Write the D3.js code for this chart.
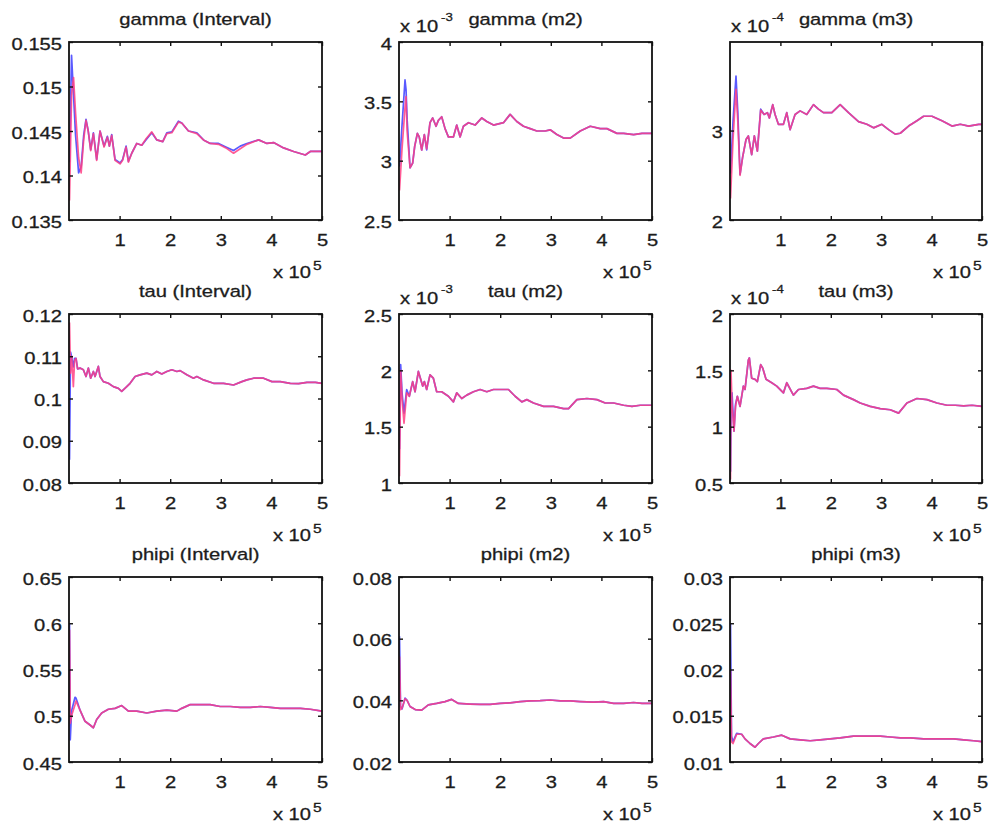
<!DOCTYPE html>
<html>
<head>
<meta charset="utf-8">
<script src="https://cdn.jsdelivr.net/npm/d3@7"></script>
<style>
  html, body { margin: 0; padding: 0; background: #fff; }
  svg text { font-family: "Liberation Sans", Arial, Helvetica, sans-serif; }
</style>
</head>
<body>
<svg id="chart" width="992" height="829"></svg>
<script>
// ---------------------------------------------------------------------------
// Running convergence statistics (pooled chain = blue, within chains = red)
// for gamma, tau and phipi: interval length, second and third moments.
// ---------------------------------------------------------------------------

const iterTicks = [100000, 200000, 300000, 400000, 500000];
const iterDomain = [0, 500000];

// gamma (Interval)
const gammaIntervalIter = [1000, 5000, 9000, 13000, 19000, 24000, 29000, 33600, 38000, 42900, 48200, 54700, 61300, 69300, 75900, 79800, 84400, 91000, 100900, 106000, 112800, 117400, 124000, 133900, 143800, 152000, 163600, 173500, 185300, 193300, 203200, 216300, 222900, 236100, 252600, 265800, 279000, 295500, 310000, 325200, 338400, 351600, 374700, 391100, 404300, 424100, 443900, 467000, 476900, 500000];
const gammaIntervalBlue = [0.1415, 0.1535, 0.1490, 0.1445, 0.1403, 0.1410, 0.1445, 0.1463, 0.1450, 0.1429, 0.1448, 0.1418, 0.1450, 0.1433, 0.1444, 0.1433, 0.1446, 0.1418, 0.1414, 0.1418, 0.1433, 0.1416, 0.1425, 0.1436, 0.1434, 0.1440, 0.1448, 0.1440, 0.1438, 0.1448, 0.1449, 0.1461, 0.1459, 0.1450, 0.1448, 0.1440, 0.1436, 0.1436, 0.1432, 0.1428, 0.1433, 0.1436, 0.1440, 0.1436, 0.1437, 0.1431, 0.1427, 0.1423, 0.1427, 0.1427];
const gammaIntervalRed = [0.1372, 0.1490, 0.1510, 0.1470, 0.1420, 0.1403, 0.1440, 0.1462, 0.1450, 0.1428, 0.1447, 0.1417, 0.1450, 0.1432, 0.1443, 0.1433, 0.1445, 0.1417, 0.1413, 0.1417, 0.1432, 0.1415, 0.1425, 0.1436, 0.1434, 0.1441, 0.1449, 0.1440, 0.1438, 0.1447, 0.1448, 0.1460, 0.1459, 0.1450, 0.1447, 0.1440, 0.1436, 0.1435, 0.1431, 0.1425, 0.1430, 0.1435, 0.1440, 0.1436, 0.1437, 0.1431, 0.1427, 0.1423, 0.1427, 0.1427];
const gammaIntervalTicks = [0.135, 0.14, 0.145, 0.15, 0.155];

// gamma (m2), values in units of 1e-3
const gammaM2Iter = [1000, 6000, 11900, 13900, 16000, 21800, 27000, 31000, 36300, 40000, 44900, 50100, 54700, 61300, 66600, 73200, 77800, 84400, 91000, 97600, 107500, 114100, 120700, 127300, 137200, 150400, 163600, 173500, 186700, 206500, 219600, 232800, 246000, 259200, 272400, 288900, 298800, 312000, 325200, 338400, 358200, 378000, 397700, 410900, 430700, 443900, 463700, 480200, 500000];
const gammaM2Blue = [2.95, 3.30, 3.68, 3.60, 3.35, 2.94, 2.98, 3.12, 3.23, 3.20, 3.09, 3.22, 3.09, 3.32, 3.36, 3.29, 3.34, 3.37, 3.27, 3.20, 3.20, 3.30, 3.20, 3.29, 3.32, 3.30, 3.36, 3.33, 3.30, 3.32, 3.39, 3.33, 3.29, 3.27, 3.25, 3.25, 3.26, 3.22, 3.19, 3.19, 3.25, 3.29, 3.27, 3.27, 3.23, 3.23, 3.22, 3.23, 3.23];
const gammaM2Red = [2.75, 3.10, 3.45, 3.54, 3.25, 2.94, 2.98, 3.12, 3.23, 3.20, 3.09, 3.22, 3.10, 3.32, 3.36, 3.29, 3.34, 3.37, 3.27, 3.20, 3.20, 3.30, 3.20, 3.29, 3.32, 3.30, 3.36, 3.33, 3.30, 3.32, 3.39, 3.33, 3.29, 3.27, 3.25, 3.25, 3.26, 3.22, 3.19, 3.19, 3.25, 3.29, 3.27, 3.27, 3.23, 3.23, 3.22, 3.23, 3.23];
const gammaM2Ticks = [2.5, 3, 3.5, 4];

// gamma (m3), values in units of 1e-4
const gammaM3Iter = [1000, 6000, 11900, 15500, 19900, 25000, 31800, 36400, 43000, 48300, 54300, 60900, 67600, 74200, 78100, 84800, 89400, 96000, 106000, 112600, 119200, 129100, 139100, 152300, 165600, 175500, 185400, 202000, 218600, 235100, 255000, 271500, 284800, 301300, 314600, 327800, 337800, 354300, 370900, 384100, 400700, 420600, 440400, 457000, 473500, 493400, 500000];
const gammaM3Blue = [2.52, 3.10, 3.61, 3.20, 2.51, 2.70, 2.90, 2.94, 2.73, 2.94, 2.77, 3.24, 3.18, 3.20, 3.14, 3.29, 3.18, 3.07, 3.07, 3.20, 3.01, 3.18, 3.22, 3.18, 3.29, 3.24, 3.20, 3.20, 3.29, 3.20, 3.10, 3.07, 3.03, 3.07, 3.01, 2.96, 2.97, 3.05, 3.11, 3.16, 3.16, 3.11, 3.05, 3.07, 3.05, 3.07, 3.07];
const gammaM3Red = [2.24, 2.90, 3.46, 3.10, 2.50, 2.70, 2.90, 2.94, 2.73, 2.94, 2.77, 3.23, 3.18, 3.20, 3.14, 3.29, 3.18, 3.07, 3.07, 3.20, 3.01, 3.18, 3.22, 3.18, 3.29, 3.24, 3.20, 3.20, 3.29, 3.20, 3.10, 3.07, 3.03, 3.07, 3.01, 2.96, 2.97, 3.05, 3.11, 3.16, 3.16, 3.11, 3.05, 3.07, 3.05, 3.07, 3.07];
const gammaM3Ticks = [2, 3];

// tau (Interval)
const tauIntervalIter = [1000, 3000, 5300, 8600, 11000, 13900, 17000, 21800, 28400, 33600, 38300, 42900, 48200, 51500, 58000, 61300, 67900, 77800, 87700, 97600, 104200, 114100, 120700, 130600, 140500, 153700, 163600, 173500, 183400, 193300, 203200, 213100, 219600, 232800, 246000, 252600, 265800, 285600, 305400, 325200, 341700, 351600, 364800, 384500, 401000, 417500, 437300, 453800, 470300, 486800, 500000];
const tauIntervalBlue = [0.0855, 0.1110, 0.1098, 0.1075, 0.1095, 0.1095, 0.1070, 0.1072, 0.1068, 0.1052, 0.1072, 0.1048, 0.1064, 0.1052, 0.1076, 0.1052, 0.1040, 0.1036, 0.1028, 0.1024, 0.1017, 0.1028, 0.1036, 0.1052, 0.1056, 0.1060, 0.1056, 0.1064, 0.1058, 0.1064, 0.1068, 0.1064, 0.1066, 0.1056, 0.1048, 0.1052, 0.1044, 0.1036, 0.1036, 0.1032, 0.1040, 0.1044, 0.1048, 0.1048, 0.1040, 0.1040, 0.1036, 0.1035, 0.1038, 0.1038, 0.1036];
const tauIntervalRed = [0.1180, 0.1060, 0.1100, 0.1028, 0.1090, 0.1095, 0.1070, 0.1072, 0.1068, 0.1052, 0.1072, 0.1048, 0.1064, 0.1052, 0.1076, 0.1052, 0.1040, 0.1036, 0.1028, 0.1024, 0.1017, 0.1028, 0.1036, 0.1052, 0.1056, 0.1060, 0.1056, 0.1064, 0.1058, 0.1064, 0.1068, 0.1064, 0.1066, 0.1056, 0.1048, 0.1052, 0.1044, 0.1036, 0.1036, 0.1032, 0.1040, 0.1044, 0.1048, 0.1048, 0.1040, 0.1040, 0.1036, 0.1035, 0.1038, 0.1038, 0.1036];
const tauIntervalTicks = [0.08, 0.09, 0.1, 0.11, 0.12];

// tau (m2), values in units of 1e-3
const tauM2Iter = [1000, 3300, 6000, 9900, 15200, 20400, 27000, 31700, 38300, 46800, 50100, 54700, 61300, 67900, 74500, 84400, 97600, 107500, 114100, 124000, 133900, 147100, 160300, 173500, 186700, 199900, 216300, 229500, 242700, 252600, 265800, 285600, 305400, 325200, 335100, 351600, 371400, 391100, 407600, 424100, 443900, 460400, 476900, 500000];
const tauM2Blue = [1.30, 2.05, 1.80, 1.62, 1.83, 1.77, 1.90, 1.81, 1.99, 1.86, 1.90, 1.83, 1.96, 1.93, 1.81, 1.81, 1.77, 1.72, 1.80, 1.75, 1.78, 1.81, 1.83, 1.81, 1.83, 1.83, 1.83, 1.77, 1.72, 1.74, 1.71, 1.68, 1.68, 1.66, 1.66, 1.74, 1.75, 1.74, 1.71, 1.71, 1.69, 1.68, 1.69, 1.69];
const tauM2Red = [1.06, 2.00, 1.75, 1.53, 1.80, 1.77, 1.90, 1.81, 1.99, 1.86, 1.90, 1.83, 1.96, 1.93, 1.81, 1.81, 1.77, 1.72, 1.80, 1.75, 1.78, 1.81, 1.83, 1.81, 1.83, 1.83, 1.83, 1.77, 1.72, 1.74, 1.71, 1.68, 1.68, 1.66, 1.66, 1.74, 1.75, 1.74, 1.71, 1.71, 1.69, 1.68, 1.69, 1.69];
const tauM2Ticks = [1, 1.5, 2, 2.5];

// tau (m3), values in units of 1e-4
const tauM3Iter = [1000, 2000, 4000, 7900, 11000, 14600, 19900, 26500, 29800, 36400, 38400, 43000, 49700, 54300, 60900, 64900, 71500, 82800, 92700, 106000, 112600, 125800, 135800, 152300, 165600, 178800, 192100, 211900, 225200, 245100, 258300, 278200, 298000, 317900, 334500, 351000, 370900, 390800, 410600, 430500, 447100, 463600, 480200, 500000];
const tauM3Blue = [0.60, 1.10, 1.30, 0.96, 1.20, 1.27, 1.18, 1.36, 1.33, 1.59, 1.61, 1.43, 1.42, 1.40, 1.55, 1.52, 1.42, 1.39, 1.36, 1.30, 1.39, 1.28, 1.33, 1.34, 1.36, 1.34, 1.34, 1.33, 1.28, 1.24, 1.21, 1.18, 1.16, 1.15, 1.12, 1.21, 1.25, 1.24, 1.21, 1.19, 1.19, 1.185, 1.19, 1.18];
const tauM3Red = [0.53, 1.50, 1.20, 0.96, 1.18, 1.27, 1.18, 1.36, 1.33, 1.59, 1.61, 1.43, 1.42, 1.40, 1.55, 1.52, 1.42, 1.39, 1.36, 1.30, 1.39, 1.28, 1.33, 1.34, 1.36, 1.34, 1.34, 1.33, 1.28, 1.24, 1.21, 1.18, 1.16, 1.15, 1.12, 1.21, 1.25, 1.24, 1.21, 1.19, 1.19, 1.185, 1.19, 1.18];
const tauM3Ticks = [0.5, 1, 1.5, 2];

// phipi (Interval)
const phipiIntervalIter = [1000, 2500, 5000, 11900, 13900, 17000, 21800, 31700, 41600, 48200, 54700, 64600, 77800, 91000, 104200, 117400, 133900, 153700, 173500, 193300, 213100, 222900, 239400, 259200, 279000, 298800, 318600, 338400, 358200, 378000, 397700, 417500, 437300, 457100, 476900, 500000];
const phipiIntervalBlue = [0.600, 0.474, 0.505, 0.520, 0.519, 0.514, 0.506, 0.494, 0.490, 0.487, 0.496, 0.503, 0.507, 0.508, 0.511, 0.505, 0.505, 0.503, 0.505, 0.506, 0.505, 0.508, 0.512, 0.512, 0.512, 0.510, 0.510, 0.509, 0.509, 0.510, 0.509, 0.508, 0.508, 0.508, 0.507, 0.505];
const phipiIntervalRed = [0.593, 0.492, 0.500, 0.512, 0.516, 0.512, 0.506, 0.494, 0.490, 0.487, 0.496, 0.503, 0.507, 0.508, 0.511, 0.505, 0.505, 0.503, 0.505, 0.506, 0.505, 0.508, 0.512, 0.512, 0.512, 0.510, 0.510, 0.509, 0.509, 0.510, 0.509, 0.508, 0.508, 0.508, 0.507, 0.505];
const phipiIntervalTicks = [0.45, 0.5, 0.55, 0.6, 0.65];

// phipi (m2)
const phipiM2Iter = [1000, 3000, 6000, 11900, 16000, 21800, 32000, 44900, 58000, 74500, 91000, 104200, 117400, 140500, 160300, 180100, 199900, 219600, 239400, 259200, 279000, 298800, 318600, 338400, 358200, 384500, 404300, 424100, 443900, 463700, 480200, 500000];
const phipiM2Blue = [0.0608, 0.0380, 0.0372, 0.0407, 0.0400, 0.0380, 0.0370, 0.0368, 0.0385, 0.0390, 0.0396, 0.0403, 0.0390, 0.0388, 0.0387, 0.0387, 0.0390, 0.0392, 0.0396, 0.0398, 0.0399, 0.0401, 0.0398, 0.0398, 0.0396, 0.0394, 0.0396, 0.0390, 0.0390, 0.0393, 0.0390, 0.0390];
const phipiM2Red = [0.0542, 0.0370, 0.0375, 0.0405, 0.0400, 0.0380, 0.0370, 0.0368, 0.0385, 0.0390, 0.0396, 0.0403, 0.0390, 0.0388, 0.0387, 0.0387, 0.0390, 0.0392, 0.0396, 0.0398, 0.0399, 0.0401, 0.0398, 0.0398, 0.0396, 0.0394, 0.0396, 0.0390, 0.0390, 0.0393, 0.0390, 0.0390];
const phipiM2Ticks = [0.02, 0.04, 0.06, 0.08];

// phipi (m3)
const phipiM3Iter = [1000, 3000, 6000, 13200, 23200, 29800, 39700, 49700, 56300, 66200, 86100, 102700, 119200, 139100, 159000, 178800, 198700, 218600, 245100, 271500, 298000, 317900, 337800, 357600, 384100, 404000, 423900, 443700, 463600, 483500, 500000];
const phipiM3Blue = [0.0250, 0.0128, 0.0122, 0.0131, 0.0130, 0.0125, 0.0120, 0.0116, 0.0120, 0.0125, 0.0127, 0.0129, 0.0125, 0.0124, 0.0123, 0.0124, 0.0125, 0.0126, 0.0128, 0.0128, 0.0128, 0.0127, 0.0126, 0.0126, 0.0125, 0.0125, 0.0125, 0.0125, 0.0124, 0.0123, 0.0122];
const phipiM3Red = [0.0199, 0.0122, 0.0120, 0.0130, 0.0130, 0.0125, 0.0120, 0.0116, 0.0120, 0.0125, 0.0127, 0.0129, 0.0125, 0.0124, 0.0123, 0.0124, 0.0125, 0.0126, 0.0128, 0.0128, 0.0128, 0.0127, 0.0126, 0.0126, 0.0125, 0.0125, 0.0125, 0.0125, 0.0124, 0.0123, 0.0122];
const phipiM3Ticks = [0.01, 0.015, 0.02, 0.025, 0.03];

// ---------------------------------------------------------------------------
// Panel definitions (grid position, axis range, exponent shown above y axis)
// ---------------------------------------------------------------------------
const panels = [
  { title: "gamma (Interval)", row: 0, col: 0, iter: gammaIntervalIter, blue: gammaIntervalBlue, red: gammaIntervalRed, ticks: gammaIntervalTicks, domain: [0.135, 0.155], exp: null },
  { title: "gamma (m2)",       row: 0, col: 1, iter: gammaM2Iter,       blue: gammaM2Blue,       red: gammaM2Red,       ticks: gammaM2Ticks,       domain: [2.5, 4],       exp: "-3" },
  { title: "gamma (m3)",       row: 0, col: 2, iter: gammaM3Iter,       blue: gammaM3Blue,       red: gammaM3Red,       ticks: gammaM3Ticks,       domain: [2, 3.99],      exp: "-4" },
  { title: "tau (Interval)",   row: 1, col: 0, iter: tauIntervalIter,   blue: tauIntervalBlue,   red: tauIntervalRed,   ticks: tauIntervalTicks,   domain: [0.08, 0.12],   exp: null },
  { title: "tau (m2)",         row: 1, col: 1, iter: tauM2Iter,         blue: tauM2Blue,         red: tauM2Red,         ticks: tauM2Ticks,         domain: [1, 2.5],       exp: "-3" },
  { title: "tau (m3)",         row: 1, col: 2, iter: tauM3Iter,         blue: tauM3Blue,         red: tauM3Red,         ticks: tauM3Ticks,         domain: [0.5, 2],       exp: "-4" },
  { title: "phipi (Interval)", row: 2, col: 0, iter: phipiIntervalIter, blue: phipiIntervalBlue, red: phipiIntervalRed, ticks: phipiIntervalTicks, domain: [0.45, 0.65],   exp: null },
  { title: "phipi (m2)",       row: 2, col: 1, iter: phipiM2Iter,       blue: phipiM2Blue,       red: phipiM2Red,       ticks: phipiM2Ticks,       domain: [0.02, 0.08],   exp: null },
  { title: "phipi (m3)",       row: 2, col: 2, iter: phipiM3Iter,       blue: phipiM3Blue,       red: phipiM3Red,       ticks: phipiM3Ticks,       domain: [0.01, 0.03],   exp: null }
];

// Plot-box geometry of the 3 x 3 grid
const colLeft = [69, 399, 730], colRight = [322, 652, 982];
const rowTop = [42, 314, 577], rowBottom = [220, 483, 762];

const FONT = 16.8;        // label size
const SX = 1.2;           // horizontal stretch of the lettering
const INK = "#1c1c1c";
const BLUE = "#5a5aff", RED = "#ff4084";

const svg = d3.select("#chart");
const fmt = v => String(+v.toFixed(4));

// Text helper: stretched label placed at (x, y)
function label(parent, x, y, txt, anchor, size) {
  return parent.append("text")
    .attr("transform", `translate(${x},${y}) scale(${SX},1)`)
    .attr("text-anchor", anchor)
    .attr("font-size", size)
    .attr("fill", INK)
    .attr("stroke", INK).attr("stroke-width", 0.3)
    .text(txt);
}

function styleAxis(sel) {
  sel.attr("font-size", null).attr("font-family", null);
  sel.select(".domain").remove();
  sel.selectAll(".tick line").attr("stroke", "#111").attr("stroke-width", 1.4);
}

panels.forEach((p, i) => {
  const x0 = colLeft[p.col], x1 = colRight[p.col];
  const y0 = rowTop[p.row], y1 = rowBottom[p.row];

  const x = d3.scaleLinear().domain(iterDomain).range([x0, x1]);
  const y = d3.scaleLinear().domain(p.domain).range([y1, y0]);
  const g = svg.append("g");

  g.append("clipPath").attr("id", "clip" + i)
    .append("rect").attr("x", x0).attr("y", y0).attr("width", x1 - x0).attr("height", y1 - y0);

  const line = d3.line().x(d => x(d[0])).y(d => y(d[1]));
  const plot = g.append("g").attr("clip-path", `url(#clip${i})`);
  plot.append("path").datum(d3.zip(p.iter, p.blue)).attr("d", line)
    .attr("fill", "none").attr("stroke", BLUE).attr("stroke-width", 1.7)
    .attr("stroke-linejoin", "round");
  plot.append("path").datum(d3.zip(p.iter, p.red)).attr("d", line)
    .attr("fill", "none").attr("stroke", RED).attr("stroke-width", 1.7)
    .attr("stroke-opacity", 0.85).attr("stroke-linejoin", "round");

  // Left axis with labels
  g.append("g").attr("transform", `translate(${x0},0)`)
    .call(d3.axisLeft(y).tickValues(p.ticks).tickFormat(fmt).tickSizeInner(-4).tickSizeOuter(0).tickPadding(7))
    .call(styleAxis)
    .call(a => a.selectAll(".tick text")
      .attr("font-size", FONT).attr("fill", INK)
      .attr("stroke", INK).attr("stroke-width", 0.3)
      .attr("x", -7 / SX).attr("dy", "0.42em")
      .attr("transform", `scale(${SX},1)`));

  // Right axis: tick marks only
  g.append("g").attr("transform", `translate(${x1},0)`)
    .call(d3.axisRight(y).tickValues(p.ticks).tickFormat("").tickSizeInner(-4).tickSizeOuter(0))
    .call(styleAxis);

  // Bottom axis with labels (in units of 1e5)
  g.append("g").attr("transform", `translate(0,${y1})`)
    .call(d3.axisBottom(x).tickValues(iterTicks).tickFormat(v => fmt(v / 1e5)).tickSizeInner(-4).tickSizeOuter(0).tickPadding(14))
    .call(styleAxis)
    .call(a => a.selectAll(".tick text")
      .attr("font-size", FONT).attr("fill", INK)
      .attr("stroke", INK).attr("stroke-width", 0.3)
      .attr("transform", `scale(${SX},1)`));

  // Top axis: tick marks only
  g.append("g").attr("transform", `translate(0,${y0})`)
    .call(d3.axisTop(x).tickValues(iterTicks).tickFormat("").tickSizeInner(-4).tickSizeOuter(0))
    .call(styleAxis);

  // Plot box
  g.append("rect").attr("x", x0).attr("y", y0).attr("width", x1 - x0).attr("height", y1 - y0)
    .attr("fill", "none").attr("stroke", "#111").attr("stroke-width", 1.8);

  // Title
  label(g, (x0 + x1) / 2, y0 - 17, p.title, "middle", FONT);

  // x-axis multiplier
  label(g, x1 - 11, y1 + 58, "x 10", "end", FONT);
  label(g, x1 - 9, y1 + 50, "5", "start", 13);

  // y-axis multiplier
  if (p.exp) {
    label(g, x0 + 1, y0 - 10, "x 10", "start", FONT);
    label(g, x0 + 42, y0 - 21, p.exp, "start", 11);
  }
});
</script>
</body>
</html>
